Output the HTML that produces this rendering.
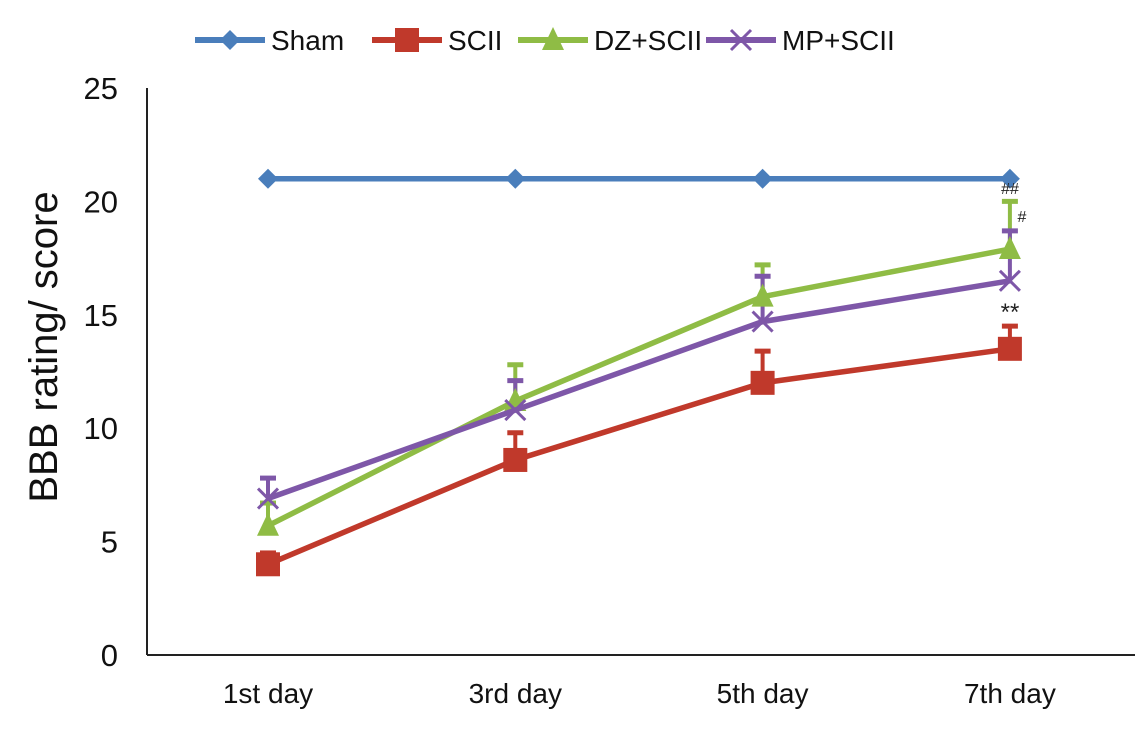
<!DOCTYPE html>
<html><head><meta charset="utf-8"><style>
body{margin:0;background:#fff;}
svg{display:block;font-family:"Liberation Sans",Arial,sans-serif;}
</style></head><body>
<svg id="chart" width="1147" height="731" viewBox="0 0 1147 731"></svg>
<script>
const categories=["1st day","3rd day","5th day","7th day"];
const seriesNames=["Sham","SCII","DZ+SCII","MP+SCII"];
const shamValues=[21,21,21,21];
const sciiValues=[4.0,8.6,12.0,13.5];
const dzValues=[5.7,11.2,15.8,17.9];
const mpValues=[6.9,10.8,14.7,16.5];
const sciiErr=[0.5,1.2,1.4,1.0];
const dzErr=[1.0,1.6,1.4,2.1];
const mpErr=[0.9,1.3,2.0,2.2];
const yTicks=[0,5,10,15,20,25];
const NS="http://www.w3.org/2000/svg";
const svg=document.getElementById("chart");
const y0=655,pxPerUnit=22.68,xLeft=147;
function yScale(v){return y0-v*pxPerUnit;}
function xScale(i){return 268+i*247.3;}
function mk(tag,attrs,parent){const e=document.createElementNS(NS,tag);for(const k in attrs)e.setAttribute(k,attrs[k]);(parent||svg).appendChild(e);return e;}
const ya=mk("line",{x1:xLeft,y1:yScale(25),x2:xLeft,y2:y0,stroke:"#222","stroke-width":2});


const xa=mk("line",{x1:xLeft,y1:y0,x2:1135,y2:y0,stroke:"#222","stroke-width":2});


yTicks.forEach(t=>{const tx=mk("text",{x:118,y:yScale(t)+11,"text-anchor":"end","font-size":31,fill:"#111"});tx.textContent=t;

});
categories.forEach((c,i)=>{const tx=mk("text",{x:xScale(i),y:703,"text-anchor":"middle","font-size":28,fill:"#111"});tx.textContent=c;

});
const yt=mk("text",{x:0,y:0,transform:"translate(57,347) rotate(-90)","text-anchor":"middle","font-size":40,fill:"#111"});yt.textContent="BBB rating/ score";


const colors=["#4a7ebb","#c0392b","#8fbc45","#7e57a8"];
const data=[shamValues,sciiValues,dzValues,mpValues];
const errs=[null,sciiErr,dzErr,mpErr];
function marker(k,x,y,g){
 const c=colors[k];
 if(k===0)mk("polygon",{points:`${x},${y-10} ${x+10},${y} ${x},${y+10} ${x-10},${y}`,fill:c},g);
 else if(k===1)mk("rect",{x:x-12,y:y-12,width:24,height:24,fill:c},g);
 else if(k===2)mk("polygon",{points:`${x},${y-13} ${x+11},${y+10} ${x-11},${y+10}`,fill:c},g);
 else{mk("line",{x1:x-10,y1:y-10,x2:x+10,y2:y+10,stroke:c,"stroke-width":3},g);mk("line",{x1:x-10,y1:y+10,x2:x+10,y2:y-10,stroke:c,"stroke-width":3},g);}
}
[1,2,3].forEach(k=>{data[k].forEach((v,i)=>{const g=mk("g",{});


const x=xScale(i);mk("line",{x1:x,y1:yScale(v),x2:x,y2:yScale(v+errs[k][i]),stroke:colors[k],"stroke-width":4},g);
mk("line",{x1:x-8,y1:yScale(v+errs[k][i]),x2:x+8,y2:yScale(v+errs[k][i]),stroke:colors[k],"stroke-width":5},g);});});
data.forEach((vals,k)=>{const g=mk("g",{});


mk("polyline",{points:vals.map((v,i)=>xScale(i)+","+yScale(v)).join(" "),fill:"none",stroke:colors[k],"stroke-width":5.5},g);
vals.forEach((v,i)=>marker(k,xScale(i),yScale(v),g));});
[["##",1010,194,16],["#",1022,222,16],["**",1010,320,24]].forEach(a=>{const t=mk("text",{x:a[1],y:a[2],"text-anchor":"middle","font-size":a[3],fill:"#222"});t.textContent=a[0];

});
const legX=[195,372,518,706];
seriesNames.forEach((n,k)=>{const g=mk("g",{});


mk("line",{x1:legX[k],y1:40,x2:legX[k]+70,y2:40,stroke:colors[k],"stroke-width":6},g);
marker(k,legX[k]+35,40,g);
const t=mk("text",{x:legX[k]+76,y:50,"font-size":28,fill:"#111"},g);t.textContent=n;});
</script>
</body></html>
